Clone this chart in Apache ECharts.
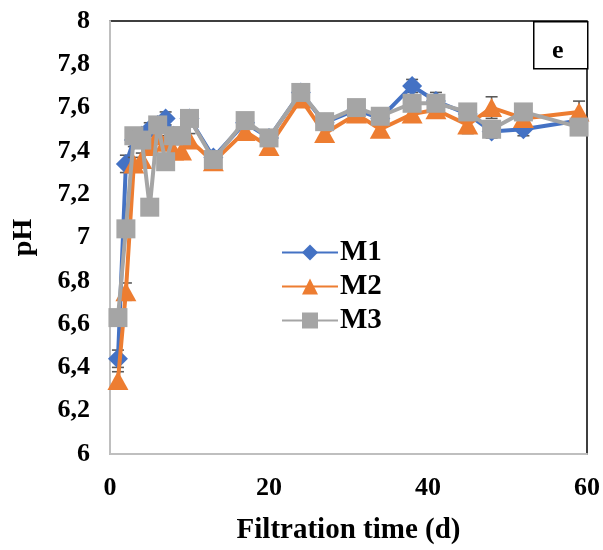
<!DOCTYPE html>
<html>
<head>
<meta charset="utf-8">
<script src="https://cdn.jsdelivr.net/npm/echarts@6/dist/echarts.min.js"></script>
<style>html,body{margin:0;padding:0;background:#fff}#c{width:603px;height:550px}</style>
</head>
<body>
<div id="c"></div>
<script>
const days = [1,2,3,4,5,6,7,8,9,10,13,17,20,24,27,31,34,38,41,45,48,52,59];
const m1 = [6.44,7.34,7.45,7.47,7.50,7.52,7.55,7.47,7.47,7.55,7.37,7.53,7.46,7.67,7.53,7.59,7.55,7.70,7.63,7.57,7.49,7.50,7.54];
const m2 = [6.34,6.75,7.34,7.36,7.42,7.47,7.44,7.40,7.40,7.45,7.35,7.49,7.42,7.64,7.48,7.57,7.50,7.57,7.59,7.52,7.60,7.55,7.58];
const m3 = [6.63,7.04,7.47,7.45,7.14,7.52,7.35,7.47,7.47,7.55,7.36,7.54,7.46,7.67,7.535,7.60,7.56,7.62,7.62,7.58,7.50,7.58,7.51];
const m1Err = [0.04,0.04,0.03,0.03,0.03,0.03,0.03,0.03,0.03,0.03,0.03,0.03,0.03,0.03,0.03,0.03,0.03,0.03,0.04,0.03,0.03,0.03,0.03];
const m2Err = [0.04,0.04,0.03,0.03,0.03,0.03,0.03,0.03,0.03,0.03,0.03,0.03,0.03,0.03,0.03,0.03,0.03,0.03,0.03,0.04,0.05,0.03,0.05];
const m3Err = [0.03,0.03,0.03,0.03,0.03,0.03,0.03,0.03,0.03,0.03,0.03,0.03,0.03,0.03,0.03,0.03,0.03,0.03,0.03,0.03,0.03,0.03,0.03];
const names = ['M1','M2','M3'];
const colors = ['#4472C4','#ED7D31','#A5A5A5'];
const xTicks = [0,20,40,60];
const FONT = "'Liberation Serif','Times New Roman',serif";

function pts(vals){ return days.map((d,i)=>[d, vals[i]]); }
function errData(vals, errs){ return days.map((d,i)=>[d, vals[i]-errs[i], vals[i]+errs[i]]); }
function errSeries(vals, errs, z){
  return {
    type:'custom', z:z, silent:true,
    data: errData(vals, errs),
    encode:{x:0, y:[1,2]},
    renderItem:function(params, api){
      const x = api.value(0);
      const lo = api.coord([x, api.value(1)]);
      const hi = api.coord([x, api.value(2)]);
      const w = 6;
      const st = {stroke:'#595959', lineWidth:1.6};
      return {type:'group', children:[
        {type:'line', shape:{x1:lo[0],y1:lo[1],x2:hi[0],y2:hi[1]}, style:st},
        {type:'line', shape:{x1:lo[0]-w,y1:lo[1],x2:lo[0]+w,y2:lo[1]}, style:st},
        {type:'line', shape:{x1:hi[0]-w,y1:hi[1],x2:hi[0]+w,y2:hi[1]}, style:st}
      ]};
    }
  };
}
function lineSeries(i, vals, symbol, size, z){
  return {
    name:names[i], type:'line', z:z, data:pts(vals),
    symbol:symbol, symbolSize:size, showAllSymbol:true,
    lineStyle:{color:colors[i], width:4},
    itemStyle:{color:colors[i]},
    emphasis:{disabled:true}
  };
}

const chart = echarts.init(document.getElementById('c'), null, {renderer:'canvas'});
chart.setOption({
  animation:false,
  backgroundColor:'#fff',
  grid:{left:110, right:15, top:21, bottom:94, show:true, borderColor:'#000', borderWidth:1.5},
  legend:{
    orient:'vertical', left:276, top:233, itemWidth:56, itemHeight:20, itemGap:5,
    data:names,
    textStyle:{fontFamily:FONT, fontWeight:'bold', fontSize:29, color:'#000', padding:[0,0,0,-3]}
  },
  xAxis:{
    type:'value', min:0, max:60, interval:20,
    axisLine:{show:true, onZero:false, lineStyle:{color:'#BFBFBF', width:2}},
    axisTick:{show:false}, splitLine:{show:false},
    axisLabel:{fontFamily:FONT, fontWeight:'bold', fontSize:26, color:'#000', margin:21,
      formatter:v=> xTicks.includes(v) ? String(v) : ''},
    name:'Filtration time (d)', nameLocation:'middle', nameGap:62,
    nameTextStyle:{fontFamily:FONT, fontWeight:'bold', fontSize:29, color:'#000'}
  },
  yAxis:{
    type:'value', min:6, max:8, interval:0.2,
    axisLine:{show:true, onZero:false, lineStyle:{color:'#BFBFBF', width:2}},
    axisTick:{show:false}, splitLine:{show:false},
    axisLabel:{fontFamily:FONT, fontWeight:'bold', fontSize:26, color:'#000', margin:20,
      formatter:v=>(Math.round(v*10)/10).toString().replace('.',',')},
    name:'pH', nameLocation:'middle', nameGap:72, nameRotate:90,
    nameTextStyle:{fontFamily:FONT, fontWeight:'bold', fontSize:28, color:'#000'}
  },
  graphic:[
    {type:'rect', left:533, top:21, shape:{width:54, height:47}, style:{fill:'#fff', stroke:'#000', lineWidth:1.5}, z:100},
    {type:'text', left:552, top:38, style:{text:'e', font:"bold 26px 'Liberation Serif','Times New Roman',serif", fill:'#000'}, z:101}
  ],
  series:[
    errSeries(m1, m1Err, 2),
    lineSeries(0, m1, 'diamond', [20,20], 3),
    errSeries(m2, m2Err, 4),
    lineSeries(1, m2, 'triangle', [21,19], 5),
    errSeries(m3, m3Err, 6),
    lineSeries(2, m3, 'rect', [19,19], 7)
  ]
});
</script>
</body>
</html>
